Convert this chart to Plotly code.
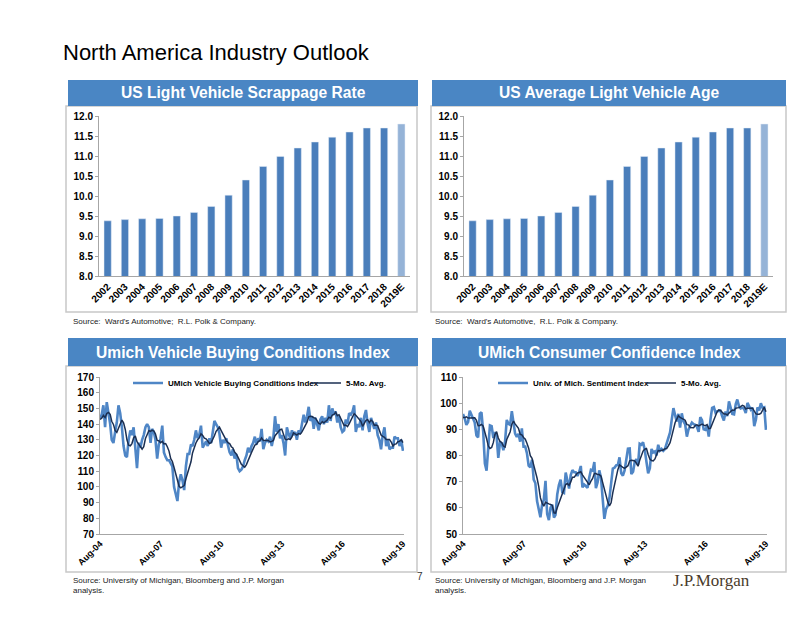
import plotly.graph_objects as go
import pandas as pd

# ---------------- data ----------------
years = ["2002", "2003", "2004", "2005", "2006", "2007", "2008", "2009", "2010",
         "2011", "2012", "2013", "2014", "2015", "2016", "2017", "2018", "2019E"]
scrappage_rate = [9.38, 9.41, 9.43, 9.44, 9.50, 9.59, 9.74, 10.02, 10.40,
                  10.74, 10.99, 11.20, 11.35, 11.47, 11.60, 11.70, 11.70, 11.80]
vehicle_age = [9.38, 9.41, 9.43, 9.44, 9.50, 9.59, 9.74, 10.02, 10.40,
               10.74, 10.99, 11.20, 11.35, 11.47, 11.60, 11.70, 11.70, 11.80]

months = pd.date_range("2004-08-01", "2019-08-01", freq="MS")

buying_index = [
    144, 146, 152, 138, 154,
    147, 140, 130, 128, 135, 141, 152, 147, 138, 126, 120, 119,
    130, 136, 133, 138, 125, 112, 128, 125, 130, 133, 138, 140,
    138, 128, 137, 135, 130, 118, 127, 131, 139, 122, 119, 117,
    117, 115, 113, 100, 95, 91, 103, 108, 104, 98, 113, 121,
    121, 127, 126, 130, 136, 131, 133, 139, 125, 127, 129, 126,
    131, 128, 136, 142, 140, 138, 134, 125, 130, 128, 131, 127,
    122, 120, 124, 118, 121, 112, 110, 111, 113, 117, 120, 125,
    122, 126, 128, 132, 127, 131, 129, 137, 124, 128, 130, 129,
    132, 126, 131, 145, 135, 140, 131, 133, 128, 120, 138, 134,
    131, 136, 133, 135, 130, 136, 134, 140, 146, 141, 145, 151,
    142, 145, 137, 144, 140, 136, 143, 145, 140, 144, 141, 152,
    142, 150, 146, 148, 141, 145, 138, 135, 136, 143, 140, 147,
    146, 148, 152, 135, 140, 138, 144, 136, 145, 149, 140, 135,
    144, 140, 137, 141, 133, 130, 124, 133, 138, 126, 130, 124,
    125, 125, 132, 131, 131, 126, 130, 123,
]
buying_avg = [
    143.0, 143.8, 145.6, 144.2, 146.8,
    147.4, 146.2, 141.8, 139.8, 136.0, 134.8, 137.2, 140.6, 142.6, 140.8, 136.6, 130.0,
    126.6, 126.2, 127.6, 131.2, 132.4, 128.8, 127.2, 125.6, 124.0, 125.6, 130.8, 133.2,
    135.8, 135.4, 136.2, 135.6, 133.6, 129.6, 129.4, 128.2, 129.0, 127.4, 127.6, 125.6,
    122.8, 118.0, 116.2, 112.4, 108.0, 102.8, 100.4, 99.4, 100.2, 100.8, 105.2, 108.8,
    111.4, 116.0, 121.6, 125.0, 128.0, 130.0, 131.2, 133.8, 132.8, 131.0, 130.6, 129.2,
    127.6, 128.2, 130.0, 132.6, 135.4, 136.8, 138.0, 135.8, 133.4, 131.0, 129.6, 128.2,
    127.6, 125.6, 124.8, 122.2, 121.0, 119.0, 117.0, 114.4, 113.4, 112.6, 114.2, 117.2,
    119.4, 122.0, 124.2, 126.6, 127.0, 128.8, 129.4, 131.2, 129.6, 129.8, 129.6, 129.6,
    128.6, 129.0, 129.6, 132.6, 133.8, 135.4, 136.4, 136.8, 133.4, 130.4, 130.0, 130.6,
    130.2, 131.8, 134.4, 133.8, 133.0, 134.0, 133.6, 135.0, 137.2, 139.4, 141.2, 144.6,
    145.0, 144.8, 144.0, 143.8, 141.6, 140.4, 140.0, 141.6, 140.8, 141.6, 142.6, 144.4,
    143.8, 145.8, 146.2, 147.6, 145.4, 146.0, 143.6, 141.4, 139.0, 139.4, 138.4, 140.2,
    142.4, 144.8, 146.6, 145.6, 144.2, 142.6, 141.8, 138.6, 140.6, 142.4, 142.8, 141.0,
    142.6, 141.6, 139.2, 139.4, 139.0, 136.2, 133.0, 132.2, 131.6, 130.2, 130.2, 130.2,
    128.6, 126.0, 127.2, 127.4, 128.8, 129.0, 130.0, 128.2,
]

sentiment_index = [
    95.9, 94.2, 91.7, 92.8, 97.1,
    95.5, 94.1, 92.6, 87.7, 86.9, 96.0, 96.5, 89.1, 76.9, 74.2, 81.6, 91.5,
    91.2, 86.7, 88.9, 87.4, 79.1, 84.9, 84.7, 82.0, 85.4, 93.6, 92.1, 91.7,
    96.9, 91.3, 88.4, 87.1, 88.3, 85.3, 90.4, 83.4, 83.4, 80.9, 76.1, 75.5,
    78.4, 70.8, 69.5, 62.6, 59.8, 56.4, 61.2, 63.0, 70.3, 57.6, 55.3, 60.1,
    61.2, 56.3, 57.3, 65.1, 68.7, 70.8, 66.0, 65.7, 73.5, 70.6, 67.4, 72.5,
    74.4, 73.6, 73.6, 72.2, 73.6, 76.0, 67.8, 68.9, 68.2, 67.7, 71.6, 74.5,
    74.2, 77.5, 67.5, 69.8, 74.3, 71.5, 63.7, 55.8, 59.5, 60.8, 63.7, 69.9,
    75.0, 75.3, 76.2, 76.4, 79.3, 73.2, 72.3, 74.3, 78.3, 82.6, 82.7, 72.9,
    73.8, 77.6, 78.6, 76.4, 84.5, 84.1, 85.1, 82.1, 77.5, 73.2, 75.1, 82.5,
    81.2, 81.6, 80.0, 84.1, 81.9, 82.5, 81.8, 82.5, 84.6, 86.9, 88.8, 93.6,
    98.1, 95.4, 93.0, 95.9, 90.7, 96.1, 93.1, 91.9, 87.2, 90.0, 91.3, 92.6,
    92.0, 91.7, 91.0, 89.0, 94.7, 93.5, 90.0, 89.8, 91.2, 87.2, 93.8, 98.2,
    98.5, 96.3, 96.9, 97.0, 97.1, 95.0, 93.4, 96.8, 95.1, 100.7, 98.5, 95.9,
    95.7, 99.7, 101.4, 98.8, 98.0, 98.2, 97.9, 96.2, 100.1, 98.6, 97.5, 98.3,
    91.2, 93.8, 98.4, 97.2, 100.0, 98.2, 98.4, 89.8,
]
sentiment_avg = [
    94.5, 94.5, 94.8, 94.3, 94.3,
    94.3, 94.2, 94.4, 93.4, 91.4, 91.5, 91.9, 91.2, 89.1, 86.5, 83.7, 82.7,
    83.1, 85.0, 88.0, 89.1, 86.7, 85.4, 85.0, 83.6, 83.2, 86.1, 87.6, 89.0,
    91.9, 93.1, 92.1, 91.1, 90.4, 88.1, 87.9, 86.9, 86.2, 84.7, 82.8, 79.9,
    78.9, 76.3, 74.1, 71.4, 68.2, 63.8, 61.9, 60.6, 62.1, 61.7, 61.5, 61.3,
    60.9, 58.1, 58.0, 60.0, 61.7, 63.6, 65.6, 67.3, 68.9, 69.3, 68.6, 69.9,
    71.7, 71.7, 72.3, 73.3, 73.5, 73.8, 72.6, 71.7, 70.9, 69.7, 68.8, 70.2,
    71.2, 73.1, 73.1, 72.7, 72.7, 72.1, 69.4, 67.0, 65.0, 62.3, 60.7, 61.9,
    65.8, 68.9, 72.0, 74.6, 76.4, 76.1, 75.5, 75.1, 75.5, 76.1, 78.0, 78.2,
    78.1, 77.9, 77.1, 75.9, 78.2, 80.2, 81.7, 82.4, 82.7, 80.4, 78.6, 78.1,
    77.9, 78.7, 80.1, 81.9, 81.8, 82.0, 82.1, 82.6, 82.7, 83.7, 84.9, 87.3,
    90.4, 92.6, 93.8, 95.2, 94.6, 94.2, 93.8, 93.5, 91.8, 91.7, 90.7, 90.6,
    90.6, 91.5, 91.7, 91.3, 91.7, 92.0, 91.6, 91.4, 91.8, 90.3, 90.4, 92.0,
    93.8, 94.8, 96.7, 97.4, 97.2, 96.5, 95.9, 95.9, 95.5, 96.2, 96.9, 97.4,
    97.2, 98.1, 98.2, 98.3, 98.7, 99.2, 98.9, 97.8, 98.1, 98.2, 98.1, 98.1,
    97.1, 95.9, 95.8, 95.8, 96.1, 97.5, 98.4, 96.7,
]

date_tick_vals = ["2004-08-01", "2007-08-01", "2010-08-01",
                  "2013-08-01", "2016-08-01", "2019-08-01"]
date_tick_text = ["Aug-04", "Aug-07", "Aug-10", "Aug-13", "Aug-16", "Aug-19"]

# ---------------- styling ----------------
OFF = 8  # page body margin in the browser
W, H = 802 - OFF, 620 - OFF
BLUE = "#4A7EBB"
LIGHT_BLUE = "#95B3D7"
LINE_BLUE = "#4F86C6"
NAVY = "#1B2F52"
HEADER = "#4A86C4"
AXIS = "#A6A6A6"
FONT = "Arial, Liberation Sans, sans-serif"


def px(x):
    return (x - OFF) / W


def py(y):
    return 1 - (y - OFF) / H


bar_colors = [BLUE] * (len(years) - 1) + [LIGHT_BLUE]

fig = go.Figure()

fig.add_trace(go.Bar(x=years, y=scrappage_rate, marker_color=bar_colors,
                     xaxis="x", yaxis="y", showlegend=False))
fig.add_trace(go.Bar(x=years, y=vehicle_age, marker_color=bar_colors,
                     xaxis="x2", yaxis="y2", showlegend=False))

fig.add_trace(go.Scatter(x=months, y=buying_index, mode="lines",
                         name="UMich Vehicle Buying Conditions Index",
                         line=dict(color=LINE_BLUE, width=2.6),
                         xaxis="x3", yaxis="y3", legend="legend"))
fig.add_trace(go.Scatter(x=months, y=buying_avg, mode="lines",
                         name="5-Mo. Avg.",
                         line=dict(color=NAVY, width=1.5),
                         xaxis="x3", yaxis="y3", legend="legend2"))
fig.add_trace(go.Scatter(x=months, y=sentiment_index, mode="lines",
                         name="Univ. of Mich. Sentiment Index",
                         line=dict(color=LINE_BLUE, width=2.6),
                         xaxis="x4", yaxis="y4", legend="legend3"))
fig.add_trace(go.Scatter(x=months, y=sentiment_avg, mode="lines",
                         name="5-Mo. Avg.",
                         line=dict(color=NAVY, width=1.5),
                         xaxis="x4", yaxis="y4", legend="legend4"))

tickfont = dict(family=FONT, size=10, color="#000000", weight="bold")
datefont = dict(family=FONT, size=9, color="#000000", weight="bold")

bar_x = dict(type="category", tickangle=-45, tickfont=tickfont, showline=True,
             linecolor=AXIS, linewidth=1, ticks="", showgrid=False, zeroline=False,
             automargin=False)
bar_y = dict(range=[8, 12], dtick=0.5, tickformat=".1f", tickfont=tickfont,
             showline=True, linecolor=AXIS, linewidth=1, ticks="outside",
             ticklen=3, tickcolor=AXIS, showgrid=False, zeroline=False,
             automargin=False)
date_x = dict(type="date", range=["2004-08-01", "2019-08-20"], tickvals=date_tick_vals,
              ticktext=date_tick_text, tickangle=-45, tickfont=datefont,
              showline=True, linecolor=AXIS, linewidth=1, ticks="",
              showgrid=False, zeroline=False, automargin=False)
line_y = dict(dtick=10, tickfont=tickfont, showline=True, linecolor=AXIS,
              linewidth=1, ticks="outside", ticklen=3, tickcolor=AXIS,
              showgrid=False, zeroline=False, automargin=False)

top_y = [py(276), py(116)]
bot_y = [py(534), py(377)]

fig.update_layout(
    width=W, height=H,
    margin=dict(l=0, r=0, t=0, b=0, pad=0, autoexpand=False),
    paper_bgcolor="white", plot_bgcolor="white",
    bargap=0.58,
    font=dict(family=FONT, color="#000000"),
    xaxis=dict(bar_x, domain=[px(99), px(410)], anchor="y"),
    yaxis=dict(bar_y, domain=top_y, anchor="x"),
    xaxis2=dict(bar_x, domain=[px(464), px(773)], anchor="y2"),
    yaxis2=dict(bar_y, domain=top_y, anchor="x2"),
    xaxis3=dict(date_x, domain=[px(100), px(404)], anchor="y3"),
    yaxis3=dict(line_y, range=[70, 170], domain=bot_y, anchor="x3"),
    xaxis4=dict(date_x, domain=[px(463), px(767)], anchor="y4"),
    yaxis4=dict(line_y, range=[50, 110], domain=bot_y, anchor="x4"),
)

legend_common = dict(orientation="h", xanchor="left", yanchor="middle",
                     bgcolor="rgba(0,0,0,0)", borderwidth=0, itemwidth=30,
                     font=dict(family=FONT, size=8, color="#000000", weight="bold"))
fig.update_layout(
    legend=dict(legend_common, x=px(128), y=py(383)),
    legend2=dict(legend_common, x=px(306), y=py(383)),
    legend3=dict(legend_common, x=px(493), y=py(383)),
    legend4=dict(legend_common, x=px(641), y=py(383)),
)

shapes = []
annotations = []

panels = [
    ("US Light Vehicle Scrappage Rate", 68, 418, 80, 106, 66, 417, 312),
    ("US Average Light Vehicle Age", 432, 786, 80, 106, 431, 786, 312),
    ("Umich Vehicle Buying Conditions Index", 68, 418, 338, 366, 66, 417, 572),
    ("UMich Consumer Confidence Index", 432, 786, 338, 366, 431, 786, 572),
]
for title, hx0, hx1, hy0, hy1, bx0, bx1, by1 in panels:
    shapes.append(dict(type="rect", xref="paper", yref="paper",
                       x0=px(bx0), x1=px(bx1), y0=py(by1), y1=py(hy1),
                       line=dict(color="#C8C8C8", width=1.5),
                       fillcolor="white", layer="below"))
    shapes.append(dict(type="rect", xref="paper", yref="paper",
                       x0=px(hx0), x1=px(hx1), y0=py(hy1), y1=py(hy0),
                       line=dict(width=0), fillcolor=HEADER, layer="below"))
    annotations.append(dict(text=title, xref="paper", yref="paper",
                            x=px((hx0 + hx1) / 2), y=py((hy0 + hy1) / 2),
                            xanchor="center", yanchor="middle", showarrow=False,
                            font=dict(family=FONT, size=15.6, color="white", weight="bold")))

annotations.append(dict(text="North America Industry Outlook", xref="paper", yref="paper",
                        x=px(61), y=py(53), xanchor="left", yanchor="middle",
                        showarrow=False,
                        font=dict(family=FONT, size=22, color="#000000")))

src_font = dict(family=FONT, size=8, color="#222222")
annotations.append(dict(text="Source:  Ward's Automotive;  R.L. Polk & Company.",
                        xref="paper", yref="paper", x=px(71), y=py(321),
                        xanchor="left", yanchor="middle", showarrow=False, font=src_font))
annotations.append(dict(text="Source:  Ward's Automotive,  R.L. Polk & Company.",
                        xref="paper", yref="paper", x=px(433), y=py(321),
                        xanchor="left", yanchor="middle", showarrow=False, font=src_font))
for x0 in (71, 433):
    annotations.append(dict(text="Source: University of Michigan, Bloomberg and J.P. Morgan<br>analysis.",
                            xref="paper", yref="paper", x=px(x0), y=py(585),
                            xanchor="left", yanchor="middle", align="left",
                            showarrow=False, font=src_font))
annotations.append(dict(text="7", xref="paper", yref="paper", x=px(420), y=py(576),
                        xanchor="center", yanchor="middle", showarrow=False,
                        font=dict(family=FONT, size=10, color="#333333")))
annotations.append(dict(text="J.P.Morgan", xref="paper", yref="paper", x=px(671), y=py(580),
                        xanchor="left", yanchor="middle", showarrow=False,
                        font=dict(family="Liberation Serif, DejaVu Serif, serif", size=17,
                                  color="#4A3B2C")))

fig.update_layout(shapes=shapes, annotations=annotations)

fig.write_html("out.html")
